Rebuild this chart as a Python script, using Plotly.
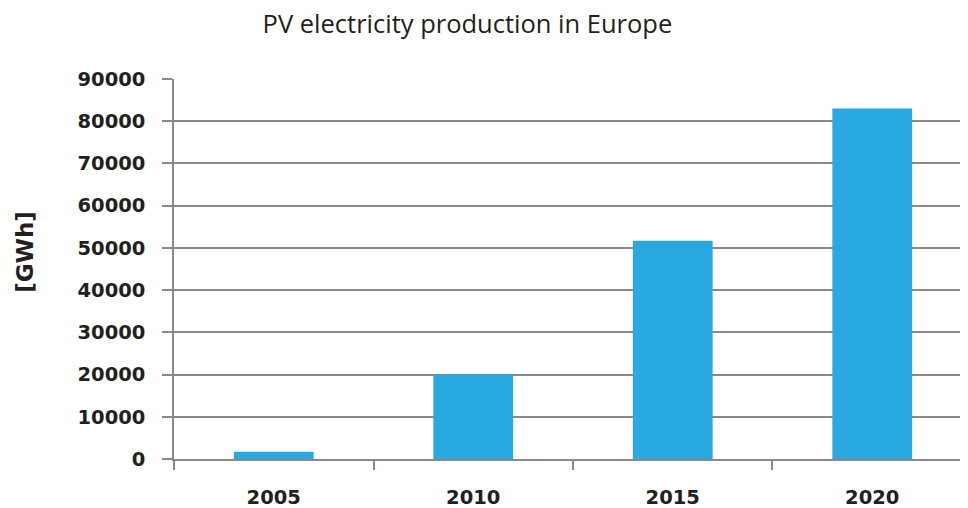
import plotly.graph_objects as go

years = ["2005", "2010", "2015", "2020"]
production_gwh = [1700, 20000, 51700, 83000]
y_ticks = [0, 10000, 20000, 30000, 40000, 50000, 60000, 70000, 80000, 90000]

BAR_COLOR = "#29A9E1"
GRID_COLOR = "#8f8686"
TICK_FONT = dict(family="DejaVu Sans", size=19.5, color="#231f20", weight="bold")

fig = go.Figure(go.Bar(
    x=years,
    y=production_gwh,
    marker_color=BAR_COLOR,
    marker_line_width=0,
    width=0.4,
))

# page body adds an 8px margin, so the figure is 960x500 and shifted
fig.update_layout(
    width=960,
    height=500,
    margin=dict(l=166, r=0, t=71, b=49),
    paper_bgcolor="white",
    plot_bgcolor="white",
    showlegend=False,
    title=dict(
        text="PV electricity production in Europe",
        x=0.4786, xanchor="center",
        y=0.968, yanchor="middle",
        font=dict(family="Open Sans", size=25.5, color="#231f20"),
    ),
)

fig.update_xaxes(
    type="category",
    range=[-0.5, 3.48],
    showline=True, linecolor=GRID_COLOR, linewidth=1.5,
    ticks="outside", tickson="boundaries", ticklen=9,
    tickcolor=GRID_COLOR, tickwidth=1.5,
    showgrid=False,
    tickfont=TICK_FONT,
    ticklabelstandoff=20,
)

fig.update_yaxes(
    range=[0, 90000],
    tickvals=y_ticks,
    ticktext=[str(v) for v in y_ticks],
    showline=True, linecolor=GRID_COLOR, linewidth=1.5,
    ticks="outside", ticklen=10, tickcolor=GRID_COLOR, tickwidth=1.5,
    showgrid=True, gridcolor=GRID_COLOR, gridwidth=1.5,
    zeroline=False,
    tickfont=TICK_FONT,
    ticklabelstandoff=13,
)

fig.add_annotation(
    text="[GWh]",
    xref="paper", yref="paper",
    x=-0.1877, y=0.545,
    xanchor="center", yanchor="middle",
    textangle=-90,
    showarrow=False,
    font=dict(family="DejaVu Sans", size=23, color="#231f20", weight="bold"),
)

fig.write_html("out.html")
